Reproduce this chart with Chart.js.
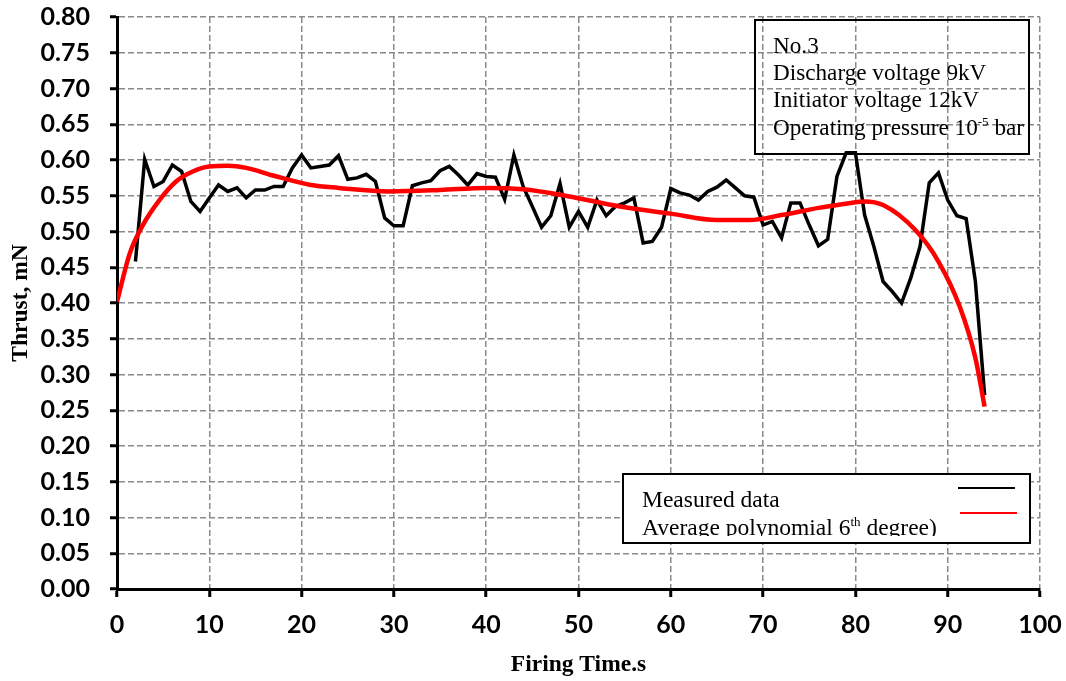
<!DOCTYPE html>
<html>
<head>
<meta charset="utf-8">
<script src="https://cdn.jsdelivr.net/npm/chart.js@4"></script>
<style>
  html, body { margin: 0; padding: 0; background: #fff; }
</style>
</head>
<body>
<canvas id="grafica" width="1066" height="681"></canvas>
<script>
// measured thrust, one reading per second
const timeS = [2, 3, 4, 5, 6, 7, 8, 9, 10, 11, 12, 13, 14, 15, 16, 17, 18, 19, 20, 21,
  22, 23, 24, 25, 26, 27, 28, 29, 30, 31, 32, 33, 34, 35, 36, 37, 38, 39, 40, 41,
  42, 43, 44, 45, 46, 47, 48, 49, 50, 51, 52, 53, 54, 55, 56, 57, 58, 59, 60, 61,
  62, 63, 64, 65, 66, 67, 68, 69, 70, 71, 72, 73, 74, 75, 76, 77, 78, 79, 80, 81,
  82, 83, 84, 85, 86, 87, 88, 89, 90, 91, 92, 93, 94];
const thrust = [0.458, 0.601, 0.563, 0.570, 0.593, 0.584, 0.542, 0.528, 0.547, 0.565,
  0.556, 0.561, 0.547, 0.558, 0.558, 0.563, 0.563, 0.589, 0.607, 0.589,
  0.591, 0.593, 0.606, 0.573, 0.575, 0.580, 0.570, 0.519, 0.508, 0.508,
  0.564, 0.568, 0.571, 0.585, 0.591, 0.579, 0.565, 0.581, 0.577, 0.576,
  0.545, 0.607, 0.563, 0.535, 0.506, 0.522, 0.567, 0.506, 0.528, 0.506,
  0.544, 0.522, 0.535, 0.540, 0.547, 0.484, 0.486, 0.506, 0.560, 0.554,
  0.551, 0.544, 0.556, 0.562, 0.572, 0.561, 0.550, 0.548, 0.509, 0.514,
  0.491, 0.540, 0.540, 0.509, 0.480, 0.489, 0.577, 0.610, 0.610, 0.523,
  0.479, 0.430, 0.416, 0.400, 0.435, 0.479, 0.568, 0.582, 0.544, 0.522,
  0.518, 0.430, 0.271];

// 6th degree fit
const fitT = [0, 1.4, 2.8, 4.6, 6.4, 8.2, 10, 12, 14, 17, 21, 24, 29.5, 35, 40, 44,
  49, 54.5, 60, 65, 68.5, 72, 76, 79.5, 81, 83, 86.5, 89, 91.3, 93, 94];
const fitThrust = [0.402, 0.470, 0.509, 0.544, 0.570, 0.584, 0.591, 0.592, 0.589, 0.578,
  0.565, 0.561, 0.556, 0.558, 0.561, 0.559, 0.549, 0.535, 0.525, 0.516,
  0.516, 0.523, 0.533, 0.540, 0.542, 0.537, 0.502, 0.458, 0.395, 0.323, 0.255];

const infoLines = ['No.3', 'Discharge voltage 9kV', 'Initiator voltage 12kV',
  ['Operating pressure 10', '-5', ' bar']];
const legendLines = ['Measured data', ['Average polynomial 6', 'th', ' degree)']];

const serif = '"Liberation Serif", "Times New Roman", serif';

// normal text with superscript parts at odd positions
function richText(ctx, parts, x, y, size) {
  if (typeof parts === 'string') parts = [parts];
  parts.forEach(function (p, i) {
    if (i % 2 === 1) {
      ctx.font = Math.round(size * 0.55) + 'px ' + serif;
      ctx.fillText(p, x, y - size * 0.38);
    } else {
      ctx.font = size + 'px ' + serif;
      ctx.fillText(p, x, y);
    }
    x += ctx.measureText(p).width;
  });
}

const boxes = {
  id: 'boxes',
  afterDraw(chart) {
    const ctx = chart.ctx;
    ctx.save();
    ctx.fillStyle = '#000';
    ctx.textBaseline = 'alphabetic';
    infoLines.forEach(function (l, i) { richText(ctx, l, 773, 53 + i * 27.2, 23.2); });
    ctx.strokeStyle = '#000';
    ctx.lineWidth = 2;
    ctx.strokeRect(755, 20, 274, 134);

    ctx.fillStyle = '#fff';
    ctx.fillRect(623, 474, 407, 69);
    ctx.strokeRect(623, 474, 407, 69);
    ctx.save();
    ctx.beginPath();
    ctx.rect(624, 475, 405, 61);
    ctx.clip();
    ctx.fillStyle = '#000';
    legendLines.forEach(function (l, i) { richText(ctx, l, 642, 507 + i * 27.5, 23.5); });
    ctx.restore();
    ctx.lineWidth = 2;
    ctx.strokeStyle = '#000';
    ctx.beginPath(); ctx.moveTo(958, 488); ctx.lineTo(1015, 488); ctx.stroke();
    ctx.strokeStyle = '#ff0000';
    ctx.beginPath(); ctx.moveTo(960, 513); ctx.lineTo(1017, 513); ctx.stroke();
    ctx.restore();
  }
};

const measured = timeS.map(function (t, i) { return { x: t, y: thrust[i] }; });
const fitted = fitT.map(function (t, i) { return { x: t, y: fitThrust[i] }; });

const tickFont = { family: 'Lato, "Open Sans", sans-serif', size: 25, weight: 'bold' };
const titleFont = { family: serif, size: 23.5, weight: 'bold' };

new Chart(document.getElementById('grafica'), {
  type: 'line',
  data: {
    datasets: [
      {
        label: 'Average polynomial 6th degree)',
        data: fitted,
        borderColor: '#ff0000',
        borderWidth: 4.5,
        pointRadius: 0,
        cubicInterpolationMode: 'monotone',
        fill: false
      },
      {
        label: 'Measured data',
        data: measured,
        borderColor: '#000',
        borderWidth: 3.5,
        pointRadius: 0,
        tension: 0,
        fill: false
      }
    ]
  },
  options: {
    responsive: false,
    animation: false,
    layout: { padding: { top: 17, right: 26, left: 0, bottom: 0 } },
    plugins: {
      legend: { display: false },
      tooltip: { enabled: false }
    },
    scales: {
      x: {
        type: 'linear',
        min: 0,
        max: 100,
        afterFit: function (s) {
          s.height = 92;
          s.paddingLeft = 0;
          s.paddingRight = 0;
        },
        ticks: { stepSize: 10, color: '#000', font: tickFont, padding: 13, maxRotation: 0 },
        grid: { color: '#8a8a8a', lineWidth: 1.5, tickColor: '#000', tickLength: 8, tickWidth: 3 },
        border: { color: '#000', width: 3, dash: [6, 3] },
        title: {
          display: true,
          text: 'Firing Time.s',
          color: '#000',
          font: titleFont,
          padding: { top: 0, bottom: 2 }
        }
      },
      y: {
        min: 0,
        max: 0.8,
        afterFit: function (s) {
          s.width = 117;
          s.paddingTop = 0;
          s.paddingBottom = 0;
        },
        ticks: {
          stepSize: 0.05,
          color: '#000',
          font: tickFont,
          padding: 20,
          callback: function (v) { return v.toFixed(2); }
        },
        grid: { color: '#8a8a8a', lineWidth: 1.5, tickColor: '#000', tickLength: 7, tickWidth: 3 },
        border: { color: '#000', width: 3, dash: [6, 3] },
        title: {
          display: true,
          text: 'Thrust, mN',
          color: '#000',
          font: titleFont,
          padding: { top: 7, bottom: 0 }
        }
      }
    }
  },
  plugins: [boxes]
});
</script>
</body>
</html>
